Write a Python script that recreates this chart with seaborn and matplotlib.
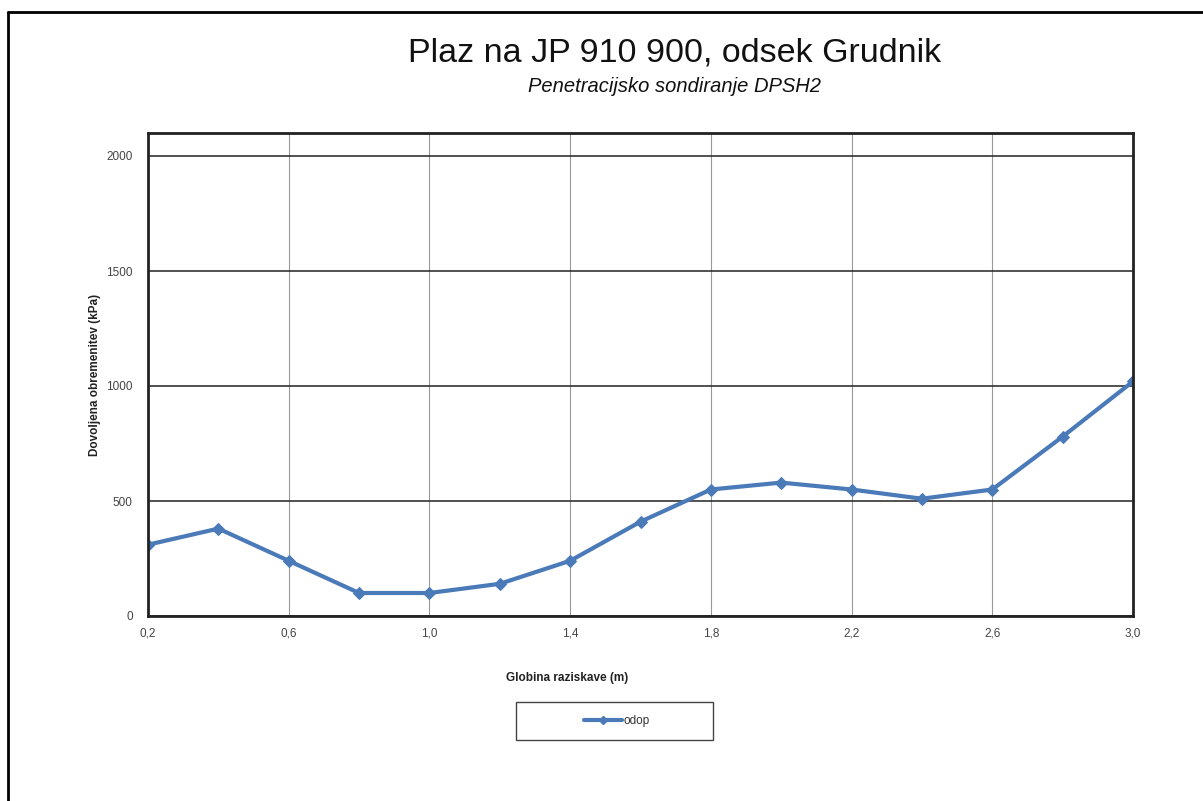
import numpy as np
import pandas as pd
import matplotlib
matplotlib.use("Agg")
import matplotlib.pyplot as plt
from matplotlib.lines import Line2D
from matplotlib.patches import Rectangle
import seaborn as sns

# depth (m) and allowed load (kPa)
globina = [0.2, 0.4, 0.6, 0.8, 1.0, 1.2, 1.4, 1.6, 1.8, 2.0, 2.2, 2.4, 2.6, 2.8, 3.0]
odpor = [310, 380, 240, 100, 100, 140, 240, 410, 550, 580, 550, 510, 550, 780, 1020]
x_ticks = [0.2, 0.6, 1.0, 1.4, 1.8, 2.2, 2.6, 3.0]
y_ticks = [0, 500, 1000, 1500, 2000]

df = pd.DataFrame({"globina": globina, "odop": odpor})

sns.set_style("white")
plt.rcParams['font.family'] = ['Liberation Sans', 'DejaVu Sans']

W, H = 1203, 801
fig = plt.figure(figsize=(W / 100, H / 100), dpi=100)
ax = fig.add_axes([148 / W, 1 - 616 / H, 985 / W, 483 / H])

line_col = '#4a7ab8'
sns.lineplot(data=df, x="globina", y="odop", ax=ax, color=line_col, linewidth=3,
             marker='D', markersize=6, markeredgecolor=line_col, label='odop')

ax.set_xlim(0.2, 3.0)
ax.set_ylim(0, 2100)
ax.set_xticks(x_ticks)
ax.set_xticklabels([f"{t:.1f}".replace('.', ',') for t in x_ticks])
ax.set_yticks(y_ticks)
ax.yaxis.grid(True, color='#222222', linewidth=1.1)
ax.xaxis.grid(True, color='#999999', linewidth=0.8)
ax.set_axisbelow(True)
for s in ax.spines.values():
    s.set_color('#222222')
    s.set_linewidth(2)
ax.tick_params(axis='both', direction='out', length=4, width=1, color='#333333',
               labelsize=8.5, labelcolor='#444444')
ax.tick_params(axis='y', pad=7)
ax.tick_params(axis='x', pad=4)

ax.set_xlabel('')
ax.set_ylabel('Dovoljena obremenitev (kPa)', fontsize=8.5, fontweight='bold',
              labelpad=4, color='#222222')
fig.text(567 / W, 1 - 678 / H, 'Globina raziskave (m)', fontsize=8.5,
         fontweight='bold', ha='center', va='center', color='#222222')

fig.text(675 / W, 1 - 53 / H, 'Plaz na JP 910 900, odsek Grudnik', fontsize=24.5,
         ha='center', va='center', color='#111111')
fig.text(675 / W, 1 - 87 / H, 'Penetracijsko sondiranje DPSH2', fontsize=14.5,
         style='italic', ha='center', va='center', color='#111111')

# legend: box drawn as a patch, entry centred inside
ax.get_legend().remove()
fig.add_artist(Rectangle((516 / W, 1 - 740 / H), 197 / W, 38 / H, transform=fig.transFigure,
                         facecolor='white', edgecolor='#444444', linewidth=1))
handle = Line2D([], [], color=line_col, linewidth=3, marker='D', markersize=4)
leg = fig.legend(handles=[handle], labels=['odop'], loc='center',
                 bbox_to_anchor=(617 / W, 1 - 721 / H), frameon=False,
                 fontsize=8.5, handlelength=3.2, handletextpad=0.1)
for t in leg.get_texts():
    t.set_color('#333333')

# outer chart border (top and left visible)
fig.add_artist(Line2D([8 / W, 8 / W], [0, 1 - 12 / H], color='black', linewidth=2))
fig.add_artist(Line2D([8 / W, 1], [1 - 12 / H, 1 - 12 / H], color='black', linewidth=2))

fig.savefig('out.png', dpi=100)
